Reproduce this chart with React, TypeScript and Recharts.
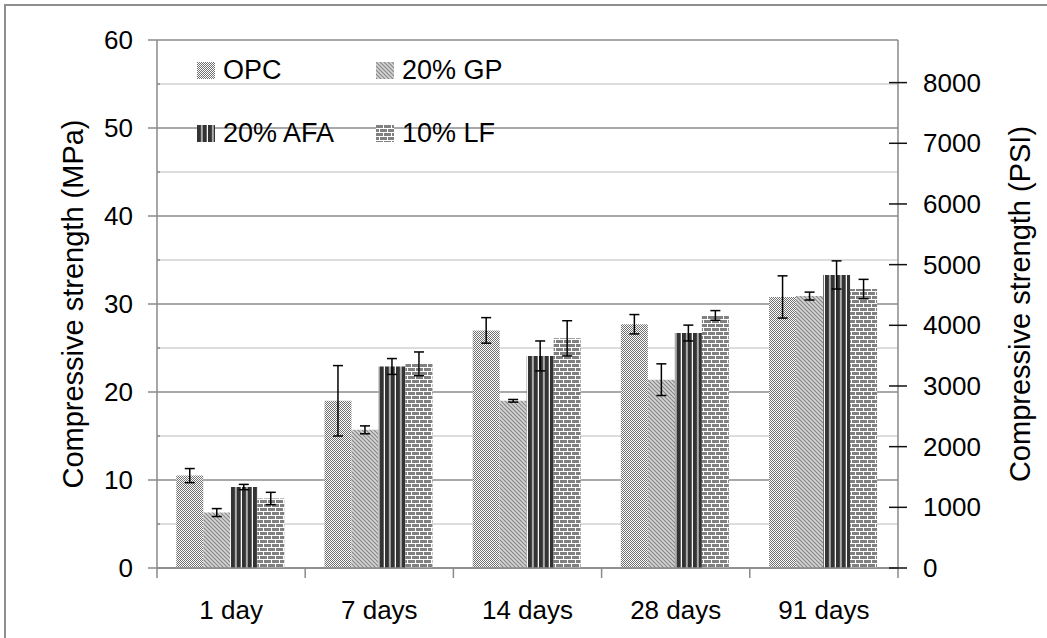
import React from "react";
import { BarChart, Bar, XAxis, YAxis, CartesianGrid, ErrorBar } from "recharts";

// curing ages
const ages = ["1 day", "7 days", "14 days", "28 days", "91 days"];

// mean compressive strength (MPa) and error (+/-)
const opc = [10.5, 19.0, 27.0, 27.7, 30.8];
const opcErr = [0.8, 4.0, 1.45, 1.1, 2.4];
const gp = [6.3, 15.7, 19.0, 21.4, 30.9];
const gpErr = [0.45, 0.45, 0.15, 1.8, 0.45];
const afa = [9.2, 22.9, 24.1, 26.7, 33.3];
const afaErr = [0.3, 0.9, 1.7, 0.9, 1.6];
const lf = [7.9, 23.2, 26.1, 28.7, 31.7];
const lfErr = [0.7, 1.35, 2.0, 0.55, 1.1];

const seriesNames = ["OPC", "20% GP", "20% AFA", "10% LF"];
const seriesKeys = ["opc", "gp", "afa", "lf"];
const patternIds = ["pOPC", "pGP", "pAFA", "pLF"];

const mpaTicks = [0, 5, 10, 15, 20, 25, 30, 35, 40, 45, 50, 55, 60];
const psiTicks = [0, 1000, 2000, 3000, 4000, 5000, 6000, 7000, 8000];
const MPA_TO_PSI = 145.038;

const data = ages.map((age, i) => ({
  age,
  opc: opc[i],
  opcErr: opcErr[i],
  gp: gp[i],
  gpErr: gpErr[i],
  afa: afa[i],
  afaErr: afaErr[i],
  lf: lf[i],
  lfErr: lfErr[i],
}));

const FONT = "'Liberation Sans', Arial, sans-serif";
const W = 1047;
const H = 638;
const TICK_FS = 26;

const Patterns = () => (
  <svg width={0} height={0} style={{ position: "absolute" }}>
    <defs>
      {/* fine checker */}
      <pattern id="pOPC" width={2} height={2} patternUnits="userSpaceOnUse">
        <rect width={2} height={2} fill="#ffffff" />
        <rect x={0} y={0} width={1} height={1} fill="#707070" />
        <rect x={1} y={1} width={1} height={1} fill="#707070" />
      </pattern>
      {/* diagonal hatch */}
      <pattern id="pGP" width={4} height={4} patternUnits="userSpaceOnUse">
        <rect width={4} height={4} fill="#d4d4d4" />
        <path d="M-1,-1 L5,5 M-1,3 L1,5 M3,-1 L5,1" stroke="#858585" strokeWidth={1.1} />
      </pattern>
      {/* vertical stripes */}
      <pattern id="pAFA" width={5.5} height={4} patternUnits="userSpaceOnUse">
        <rect width={5.5} height={4} fill="#333333" />
        <rect x={4.3} width={1.2} height={4} fill="#ffffff" />
      </pattern>
      {/* bricks */}
      <pattern id="pLF" width={8} height={8} patternUnits="userSpaceOnUse">
        <rect width={8} height={8} fill="#ffffff" />
        <rect x={0} y={0} width={7} height={3} fill="#808080" />
        <rect x={0} y={4} width={3} height={3} fill="#808080" />
        <rect x={4} y={4} width={4} height={3} fill="#808080" />
      </pattern>
    </defs>
  </svg>
);

const XTick = (props: any) => {
  const { x, y, payload, index } = props;
  const half = payload && payload.offset ? payload.offset : 74;
  return (
    <g>
      <line x1={x - half} x2={x - half} y1={y} y2={y + 10} stroke="#8a8a8a" strokeWidth={1.5} />
      {index === ages.length - 1 && (
        <line x1={x + half} x2={x + half} y1={y} y2={y + 10} stroke="#8a8a8a" strokeWidth={1.5} />
      )}
      <text x={x} y={y + 51} textAnchor="middle" fontSize={TICK_FS} fontFamily={FONT} fill="#000">
        {payload.value}
      </text>
    </g>
  );
};

const LeftTick = (props: any) => {
  const { x, y, payload } = props;
  const major = payload.value % 10 === 0;
  return (
    <g>
      {major ? (
        <line x1={x - 9} x2={x} y1={y} y2={y} stroke="#8a8a8a" strokeWidth={1.5} />
      ) : (
        <line x1={x} x2={x + 3} y1={y} y2={y} stroke="#8a8a8a" strokeWidth={1.5} />
      )}
      {major && (
        <text x={x - 24} y={y} dy={9} textAnchor="end" fontSize={TICK_FS} fontFamily={FONT} fill="#000">
          {payload.value}
        </text>
      )}
    </g>
  );
};

const RightTick = (props: any) => {
  const { x, y, payload } = props;
  return (
    <g>
      <line x1={x - 9} x2={x + 9} y1={y} y2={y} stroke="#111" strokeWidth={1.5} />
      <text x={x + 25} y={y} dy={9} textAnchor="start" fontSize={TICK_FS} fontFamily={FONT} fill="#000">
        {payload.value}
      </text>
    </g>
  );
};

const Legend = () => (
  <div style={{ position: "absolute", left: 0, top: 0, fontFamily: FONT, fontSize: 27 }}>
    {seriesNames.map((name, i) => {
      const col = i % 2;
      const row = Math.floor(i / 2);
      return (
        <div
          key={name}
          style={{
            position: "absolute",
            left: 197 + col * 179,
            top: 55 + row * 63,
            display: "flex",
            alignItems: "center",
            whiteSpace: "nowrap",
            height: 30,
          }}
        >
          <svg width={18} height={17} style={{ marginRight: 8 }}>
            <rect width={18} height={17} fill={`url(#${patternIds[i]})`} />
          </svg>
          <span>{name}</span>
        </div>
      );
    })}
  </div>
);

export default function App() {
  return (
    <div style={{ position: "absolute", left: 0, top: 0, width: W, height: H, background: "#fff", overflow: "hidden" }}>
      <Patterns />
      <div
        style={{
          position: "absolute",
          left: 4,
          top: 4,
          width: W + 20,
          height: H + 20,
          borderLeft: "2px solid #8f8f8f",
          borderTop: "2px solid #8f8f8f",
        }}
      />
      <BarChart
        width={W}
        height={H}
        data={data}
        margin={{ top: 40, right: 49, bottom: 20, left: 57 }}
        barGap={0}
        barCategoryGap="13%"
        style={{ position: "absolute", left: 0, top: 0 }}
      >
        <CartesianGrid
          yAxisId="left"
          vertical={false}
          horizontal={(p: any) => (
            <line
              key={p.key}
              x1={p.x1}
              x2={p.x2}
              y1={p.y1}
              y2={p.y2}
              stroke={p.index % 2 === 0 ? "#8c8c8c" : "#d2d2d2"}
              strokeWidth={1.5}
            />
          )}
        />
        <XAxis
          dataKey="age"
          height={50}
          tickSize={0}
          tickMargin={0}
          tickLine={false}
          axisLine={{ stroke: "#8a8a8a", strokeWidth: 1.5 }}
          tick={<XTick />}
          interval={0}
        />
        <YAxis
          yAxisId="left"
          width={100}
          domain={[0, 60]}
          ticks={mpaTicks}
          interval={0}
          tickSize={0}
          tickMargin={0}
          tickLine={false}
          axisLine={{ stroke: "#8a8a8a", strokeWidth: 1.5 }}
          tick={<LeftTick />}
          label={{
            value: "Compressive strength (MPa)",
            angle: -90,
            position: "insideLeft",
            dx: 11,
            style: { fontSize: 29, fontFamily: FONT, fill: "#000", textAnchor: "middle" },
          }}
        />
        <YAxis
          yAxisId="right"
          orientation="right"
          width={100}
          type="number"
          domain={[0, 60 * MPA_TO_PSI]}
          allowDataOverflow
          ticks={psiTicks}
          interval={0}
          tickSize={0}
          tickMargin={0}
          tickLine={false}
          axisLine={{ stroke: "#8a8a8a", strokeWidth: 1.5 }}
          tick={<RightTick />}
          label={{
            value: "Compressive strength (PSI)",
            angle: -90,
            position: "insideRight",
            dx: 27,
            style: { fontSize: 29, fontFamily: FONT, fill: "#000", textAnchor: "middle" },
          }}
        />
        {seriesKeys.map((k, i) => (
          <Bar
            key={k}
            yAxisId="left"
            dataKey={k}
            name={seriesNames[i]}
            fill={`url(#${patternIds[i]})`}
            isAnimationActive={false}
          >
            <ErrorBar dataKey={`${k}Err`} width={5} stroke="#000" strokeWidth={1.5} />
          </Bar>
        ))}
      </BarChart>
      <Legend />
    </div>
  );
}
